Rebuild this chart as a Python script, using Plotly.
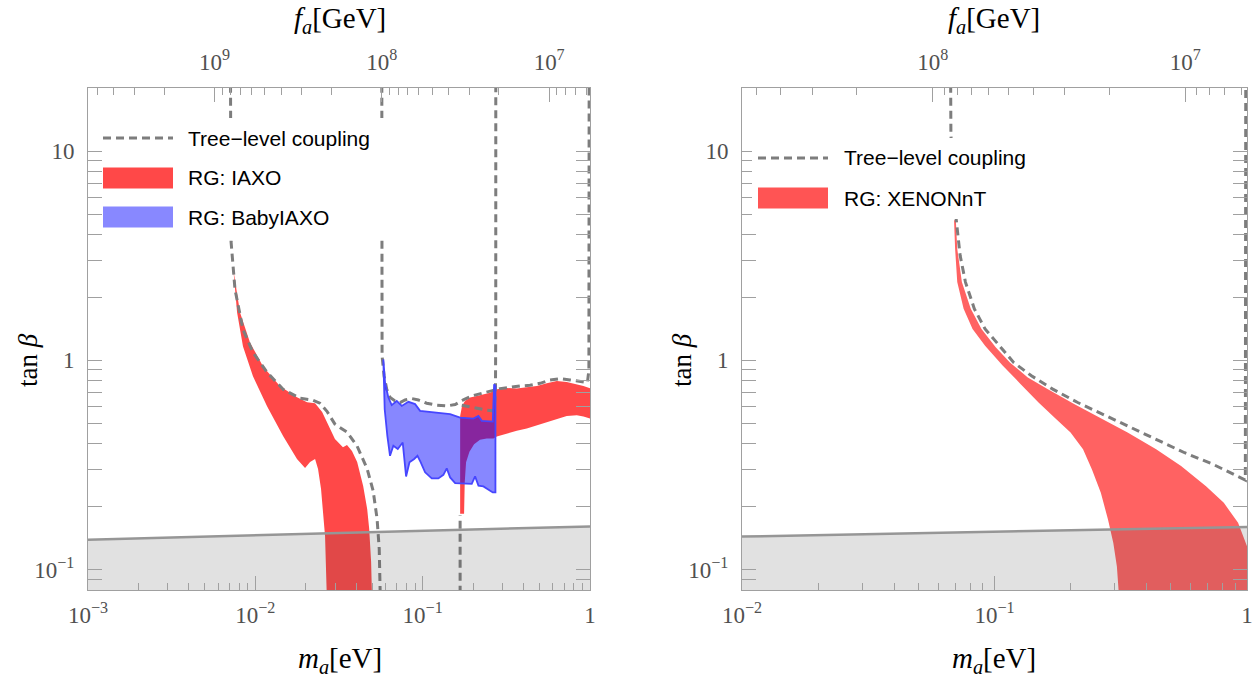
import math
import plotly.graph_objects as go

# ---------------------------------------------------------------
# Left panel: RG-improved reach of IAXO / BabyIAXO in (m_a, tan beta)
# ---------------------------------------------------------------
# IAXO band, light-mass branch: upper (outer) and lower (inner) edges
iaxo_lo_upper_m = [0.00739, 0.00810, 0.00929, 0.01112, 0.01405, 0.01774, 0.02037, 0.02275,
                   0.02507, 0.02796, 0.0299, 0.0334, 0.0353, 0.0378, 0.0406, 0.0441, 0.0466,
                   0.0479, 0.0492, 0.0499]
iaxo_lo_upper_t = [2.71, 1.693, 1.218, 0.936, 0.752, 0.667, 0.631, 0.624, 0.566, 0.469, 0.421,
                   0.385, 0.394, 0.369, 0.327, 0.251, 0.195, 0.157, 0.109, 0.07]
iaxo_lo_lower_m = [0.00778, 0.00844, 0.00968, 0.01175, 0.01465, 0.01774, 0.01982, 0.02124,
                   0.02275, 0.0237, 0.0247, 0.0254, 0.0261, 0.0268]
iaxo_lo_lower_t = [1.693, 1.166, 0.839, 0.604, 0.435, 0.338, 0.306, 0.327, 0.338, 0.303, 0.243,
                   0.189, 0.145, 0.07]

# IAXO band, heavy-mass branch
iaxo_hi_upper_m = [0.1675, 0.172, 0.179, 0.192, 0.2105, 0.2307, 0.2529, 0.2773, 0.3184, 0.3652,
                   0.419, 0.481, 0.552, 0.633, 0.726, 0.834, 0.914, 1.01]
iaxo_hi_upper_t = [0.543, 0.607, 0.640, 0.664, 0.676, 0.689, 0.701, 0.727, 0.738, 0.733, 0.746,
                   0.755, 0.777, 0.797, 0.789, 0.769, 0.755, 0.733]
iaxo_hi_lower_m = [0.1675, 0.1768, 0.1784, 0.1817, 0.1903, 0.2029, 0.220, 0.2414, 0.265, 0.2773,
                   0.3184, 0.365, 0.419, 0.481, 0.552, 0.633, 0.726, 0.834, 0.914, 1.01]
iaxo_hi_lower_t = [0.185, 0.185, 0.262, 0.326, 0.366, 0.398, 0.418, 0.424, 0.424, 0.433, 0.445,
                   0.461, 0.473, 0.487, 0.505, 0.524, 0.543, 0.547, 0.539, 0.527]

# BabyIAXO band
baby_upper_m = [0.0582, 0.0596, 0.0624, 0.0653, 0.0700, 0.0750, 0.0822, 0.0901, 0.0965, 0.1159,
                0.1459, 0.1675, 0.201, 0.2155, 0.2256, 0.2624, 0.2673, 0.2722]
baby_upper_t = [1.011, 0.783, 0.664, 0.611, 0.640, 0.606, 0.634, 0.618, 0.574, 0.564, 0.553,
                0.533, 0.527, 0.543, 0.514, 0.510, 0.769, 0.755]
baby_lower_m = [0.0593, 0.0615, 0.0638, 0.0668, 0.0710, 0.0760, 0.0796, 0.0834, 0.0890, 0.0931,
                0.0974, 0.1034, 0.1133, 0.1241, 0.1330, 0.1393, 0.1459, 0.1563, 0.1795, 0.1965,
                0.2057, 0.2155, 0.2307, 0.2471, 0.2624, 0.2722]
baby_lower_t = [0.584, 0.436, 0.350, 0.391, 0.377, 0.405, 0.279, 0.326, 0.338, 0.350, 0.326,
                0.292, 0.273, 0.273, 0.284, 0.305, 0.276, 0.259, 0.257, 0.257, 0.279, 0.252,
                0.250, 0.241, 0.234, 0.234]

# Tree-level coupling curves (three branches)
tree_a_m = [0.00706, 0.00716, 0.00756, 0.00844, 0.00968, 0.01175, 0.01465, 0.0185, 0.0221,
            0.0243, 0.0268, 0.0299, 0.0353, 0.0406, 0.0466, 0.0506, 0.0534, 0.0550, 0.0564]
tree_a_t = [100, 3.69, 2.18, 1.405, 1.092, 0.877, 0.728, 0.659, 0.645, 0.624, 0.571, 0.496,
            0.454, 0.389, 0.303, 0.238, 0.175, 0.126, 0.05]
tree_b_m = [0.0569, 0.0572, 0.0588, 0.0610, 0.0639, 0.0684, 0.0733, 0.0785, 0.0860, 0.0943,
            0.1057, 0.1213, 0.1393, 0.1563, 0.175, 0.1965, 0.2255, 0.2588, 0.290, 0.333, 0.382,
            0.438, 0.503, 0.577, 0.663, 0.760, 0.873, 0.965, 0.985, 0.99]
tree_b_t = [100, 1.049, 0.842, 0.728, 0.664, 0.640, 0.629, 0.647, 0.657, 0.647, 0.624, 0.611,
            0.606, 0.615, 0.648, 0.676, 0.696, 0.714, 0.733, 0.743, 0.755, 0.760, 0.777, 0.806,
            0.818, 0.806, 0.789, 0.783, 0.9, 100]
tree_c_m = [0.1674, 0.1674, None, 0.1713, 0.192, 0.2155, 0.2414, 0.265, 0.2722, 0.2734, 0.2736]
tree_c_t = [0.05, 0.182, None, 0.611, 0.602, 0.589, 0.578, 0.574, 0.676, 1.41, 100]

# Lower bound on tan beta (shaded floor)
floor_left_m = [1e-3, 1.0]
floor_left_t = [0.139, 0.161]

# ---------------------------------------------------------------
# Right panel: XENONnT
# ---------------------------------------------------------------
xenon_upper_m = [0.07028, 0.07119, 0.07426, 0.08054, 0.08881, 0.1011, 0.1151, 0.1355, 0.1621,
                 0.2067, 0.2682, 0.3366, 0.4367, 0.5482, 0.6882, 0.8095, 0.9219, 1.0, 1.0]
xenon_upper_t = [4.67, 3.417, 2.365, 1.762, 1.413, 1.154, 0.978, 0.829, 0.729, 0.618, 0.5235,
                 0.4518, 0.3759, 0.3128, 0.2507, 0.2087, 0.1674, 0.1294, 0.07]
xenon_lower_m = [0.06915, 0.06982, 0.07119, 0.07546, 0.08186, 0.09176, 0.1079, 0.1270, 0.1494,
                 0.1757, 0.2001, 0.2242, 0.2432, 0.2637, 0.2815, 0.2955, 0.3053, 0.3103, 0.311]
xenon_lower_t = [4.67, 3.417, 2.365, 1.762, 1.413, 1.176, 0.943, 0.770, 0.629, 0.5235, 0.4518,
                 0.3759, 0.3014, 0.2331, 0.1737, 0.1342, 0.1037, 0.0787, 0.07]

tree_x_m = [0.0666, 0.0672, 0.0690, 0.07074, 0.07308, 0.07673, 0.08322, 0.09176, 0.1045, 0.1190,
            0.1400, 0.1701, 0.2136, 0.2682, 0.3366, 0.4367, 0.5662, 0.7343, 0.985, 0.99]
tree_x_t = [100, 12.0, 6.0, 4.42, 3.174, 2.365, 1.762, 1.413, 1.176, 0.978, 0.844, 0.729, 0.629,
            0.553, 0.486, 0.420, 0.362, 0.3186, 0.268, 100]

floor_right_m = [1e-2, 1.0]
floor_right_t = [0.144, 0.160]

# f_a = 5.7e6 GeV * (eV / m_a)
FA_SCALE = 5.7e6

# Tick labels
m_left_ticks = [1e-3, 1e-2, 1e-1, 1]
m_left_text = ["10<sup>−3</sup>", "10<sup>−2</sup>", "10<sup>−1</sup>", "1"]
m_right_ticks = [1e-2, 1e-1, 1]
m_right_text = ["10<sup>−2</sup>", "10<sup>−1</sup>", "1"]
fa_ticks = [1e7, 1e8, 1e9]
fa_text = ["10<sup>7</sup>", "10<sup>8</sup>", "10<sup>9</sup>"]
tb_ticks = [0.1, 1, 10]
tb_text = ["10<sup>−1</sup>", "1", "10"]

# ---------------------------------------------------------------
# Styling
# ---------------------------------------------------------------
W, H = 1257, 687
RED_L = "rgb(255,72,72)"
RED_R = "rgb(255,98,98)"
BLUE_FILL = "rgba(0,0,255,0.47)"
BLUE_LINE = "rgb(70,70,255)"
DASH_COL = "rgb(125,125,125)"
DASH = "8px,5px"
FLOOR_FILL = "rgba(80,80,80,0.17)"
FLOOR_LINE = "rgb(150,150,150)"
FRAME = "rgb(160,160,160)"
TICK_FONT = dict(family="Liberation Serif", size=23, color="rgb(80,80,80)")
SERIF = "Liberation Serif"
SANS = "Liberation Sans"


def minor_vals(e0, e1):
    return [k * 10.0 ** e for e in range(e0, e1) for k in range(2, 10)]


def px(x):
    return x / W


def py(y):
    return 1 - y / H


def band(xu, tu, xl, tl):
    return xu + xl[::-1], tu + tl[::-1]


fig = go.Figure()

# --- left panel ---
bx, by = band(iaxo_lo_upper_m, iaxo_lo_upper_t, iaxo_lo_lower_m, iaxo_lo_lower_t)
fig.add_trace(go.Scatter(x=bx, y=by, fill="toself", fillcolor=RED_L, mode="lines",
                         line=dict(width=0, color=RED_L), xaxis="x", yaxis="y"))
bx, by = band(iaxo_hi_upper_m, iaxo_hi_upper_t, iaxo_hi_lower_m, iaxo_hi_lower_t)
fig.add_trace(go.Scatter(x=bx, y=by, fill="toself", fillcolor=RED_L, mode="lines",
                         line=dict(width=0, color=RED_L), xaxis="x", yaxis="y"))
for tm, tt in [(tree_a_m, tree_a_t), (tree_b_m, tree_b_t), (tree_c_m, tree_c_t)]:
    fig.add_trace(go.Scatter(x=tm, y=tt, mode="lines", connectgaps=False,
                             line=dict(color=DASH_COL, width=3, dash=DASH),
                             xaxis="x", yaxis="y"))
bx, by = band(baby_upper_m, baby_upper_t, baby_lower_m, baby_lower_t)
bx = [baby_upper_m[0]] + bx + [baby_upper_m[0]]
by = [baby_upper_t[0]] + by + [baby_upper_t[0]]
fig.add_trace(go.Scatter(x=bx, y=by, fill="toself", fillcolor=BLUE_FILL, mode="lines",
                         line=dict(width=1.8, color=BLUE_LINE), xaxis="x", yaxis="y"))
fig.add_trace(go.Scatter(x=[floor_left_m[0]] + floor_left_m + [floor_left_m[-1]],
                         y=[0.01] + floor_left_t + [0.01], fill="toself",
                         fillcolor=FLOOR_FILL, mode="lines", line=dict(width=0),
                         xaxis="x", yaxis="y"))
fig.add_trace(go.Scatter(x=floor_left_m, y=floor_left_t, mode="lines",
                         line=dict(color=FLOOR_LINE, width=2.5), xaxis="x", yaxis="y"))
# carrier trace for the f_a axis on top
fig.add_trace(go.Scatter(x=[FA_SCALE / 1e-3, FA_SCALE], y=[1, 1], mode="markers",
                         marker=dict(opacity=0), hoverinfo="skip", xaxis="x2", yaxis="y"))

# --- right panel ---
bx, by = band(xenon_upper_m, xenon_upper_t, xenon_lower_m, xenon_lower_t)
fig.add_trace(go.Scatter(x=bx, y=by, fill="toself", fillcolor=RED_R, mode="lines",
                         line=dict(width=0, color=RED_R), xaxis="x3", yaxis="y2"))
fig.add_trace(go.Scatter(x=tree_x_m, y=tree_x_t, mode="lines",
                         line=dict(color=DASH_COL, width=3, dash=DASH),
                         xaxis="x3", yaxis="y2"))
fig.add_trace(go.Scatter(x=[floor_right_m[0]] + floor_right_m + [floor_right_m[-1]],
                         y=[0.01] + floor_right_t + [0.01], fill="toself",
                         fillcolor=FLOOR_FILL, mode="lines", line=dict(width=0),
                         xaxis="x3", yaxis="y2"))
fig.add_trace(go.Scatter(x=floor_right_m, y=floor_right_t, mode="lines",
                         line=dict(color=FLOOR_LINE, width=2.5), xaxis="x3", yaxis="y2"))
fig.add_trace(go.Scatter(x=[FA_SCALE / 1e-2, FA_SCALE], y=[1, 1], mode="markers",
                         marker=dict(opacity=0), hoverinfo="skip", xaxis="x4", yaxis="y2"))

# ---------------------------------------------------------------
# Axes
# ---------------------------------------------------------------
L_DOM = [px(88), px(590)]
R_DOM = [px(742), px(1247)]
Y_DOM = [py(590), py(88)]
Y_RANGE = [math.log10(0.08), math.log10(20)]

common = dict(type="log", showgrid=False, zeroline=False, showline=True, linecolor=FRAME,
              linewidth=1, ticks="inside", ticklen=14, tickwidth=1, tickcolor=FRAME,
              tickfont=TICK_FONT, tickmode="array", automargin=False)


def minor(vals):
    return dict(ticks="inside", ticklen=7, tickwidth=1, tickcolor=FRAME, tickmode="array",
                tickvals=vals, showgrid=False)


fig.update_layout(
    width=W, height=H, margin=dict(l=0, r=0, t=0, b=0),
    paper_bgcolor="white", plot_bgcolor="white", showlegend=False,
    xaxis=dict(common, domain=L_DOM, anchor="y", range=[-3, 0], mirror=True,
               tickvals=m_left_ticks, ticktext=m_left_text, ticklabelstandoff=4,
               minor=minor(minor_vals(-3, 0))),
    xaxis2=dict(common, overlaying="x", anchor="y", side="top",
                range=[math.log10(FA_SCALE / 1e-3), math.log10(FA_SCALE)],
                tickvals=fa_ticks, ticktext=fa_text, ticklabelstandoff=8,
                minor=minor(minor_vals(6, 10))),
    yaxis=dict(common, domain=Y_DOM, anchor="x", range=Y_RANGE, mirror="allticks",
               tickvals=tb_ticks, ticktext=tb_text, ticklabelstandoff=8,
               minor=minor(minor_vals(-2, 2))),
    xaxis3=dict(common, domain=R_DOM, anchor="y2", range=[-2, 0], mirror=True,
                tickvals=m_right_ticks, ticktext=m_right_text, ticklabelstandoff=4,
                minor=minor(minor_vals(-2, 0))),
    xaxis4=dict(common, overlaying="x3", anchor="y2", side="top",
                range=[math.log10(FA_SCALE / 1e-2), math.log10(FA_SCALE)],
                tickvals=fa_ticks, ticktext=fa_text, ticklabelstandoff=8,
                minor=minor(minor_vals(6, 9))),
    yaxis2=dict(common, domain=Y_DOM, anchor="x3", range=Y_RANGE, mirror="allticks",
                tickvals=tb_ticks, ticktext=tb_text, ticklabelstandoff=8,
                minor=minor(minor_vals(-2, 2))),
)

# ---------------------------------------------------------------
# Legends (drawn in place, with a white backing box)
# ---------------------------------------------------------------
shapes = []
annotations = []


def legend(x0, y_top, y_bot, x_right, rows, sample_x0, sample_x1, text_x):
    shapes.append(dict(type="rect", xref="paper", yref="paper", layer="above",
                       x0=px(x0), x1=px(x_right), y0=py(y_bot), y1=py(y_top),
                       fillcolor="white", line=dict(width=0)))
    for kind, yc, colour, label in rows:
        if kind == "dash":
            shapes.append(dict(type="line", xref="paper", yref="paper", layer="above",
                               x0=px(sample_x0), x1=px(sample_x1), y0=py(yc), y1=py(yc),
                               line=dict(color=colour, width=3, dash=DASH)))
        else:
            shapes.append(dict(type="rect", xref="paper", yref="paper", layer="above",
                               x0=px(sample_x0), x1=px(sample_x1), y0=py(yc + 10.5),
                               y1=py(yc - 10.5), fillcolor=colour, line=dict(width=0)))
        annotations.append(dict(xref="paper", yref="paper", x=px(text_x), y=py(yc),
                                xanchor="left", yanchor="middle", showarrow=False, text=label,
                                font=dict(family=SANS, size=21, color="black")))


legend(103, 118, 240, 392,
       [("dash", 138, DASH_COL, "Tree−level coupling"),
        ("rect", 178, RED_L, "RG: IAXO"),
        ("rect", 217, "rgb(136,136,255)", "RG: BabyIAXO")],
       103, 173, 186)
legend(752, 138, 219, 1045,
       [("dash", 158, DASH_COL, "Tree−level coupling"),
        ("rect", 198, "rgb(255,84,84)", "RG: XENONnT")],
       758, 828, 842)

# Axis titles
TITLE_FONT = dict(family=SERIF, size=29, color="black")
for xc in (340, 994):
    annotations.append(dict(xref="paper", yref="paper", x=px(xc), y=py(20), showarrow=False,
                            xanchor="center", yanchor="middle", font=TITLE_FONT,
                            text="<i>f</i><sub><i>a</i></sub>[GeV]"))
    annotations.append(dict(xref="paper", yref="paper", x=px(xc), y=py(660), showarrow=False,
                            xanchor="center", yanchor="middle", font=TITLE_FONT,
                            text="<i>m</i><sub><i>a</i></sub>[eV]"))
for xc in (28, 682):
    annotations.append(dict(xref="paper", yref="paper", x=px(xc), y=py(360), showarrow=False,
                            xanchor="center", yanchor="middle", textangle=-90,
                            font=dict(family=SERIF, size=27, color="black"),
                            text="tan <i>β</i>"))

fig.update_layout(shapes=shapes, annotations=annotations)
fig.write_html("out.html")
